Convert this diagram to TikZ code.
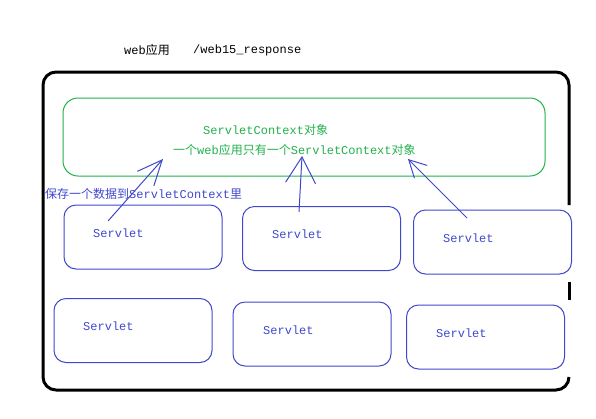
\documentclass[tikz,border=0pt]{standalone}
\usepackage{fontspec}
\setmainfont{Liberation Mono}
\newfontfamily\cjk{Noto Sans CJK SC}
\usetikzlibrary{arrows.meta}
\definecolor{ctxgreen}{HTML}{22B14C}
\definecolor{srvblue}{HTML}{3F48CC}

\begin{document}
\begin{tikzpicture}[
    x=1pt, y=-1pt,
    txt/.style={inner sep=0pt, anchor=west, font=\fontsize{12}{14}\selectfont},
    frame/.style={draw=black, line width=3pt, rounded corners=13pt},
    ctxbox/.style={rectangle, draw=ctxgreen, line width=1pt, rounded corners=15pt, minimum width=482pt, minimum height=78pt},
    servlet/.style={rectangle, draw=srvblue, line width=1pt, rounded corners=12pt, minimum width=158pt, minimum height=64pt},
    arrow/.style 2 args={srvblue, line width=1pt, -{Straight Barb[length=#1, width=#2, line width=1pt]}}
]
\useasboundingbox (0,0) rectangle (596,418);

% Title
\node[txt] (app) at (124,50) {web{\cjk 应用}};
\node[txt] (ctxpath) at (193,50) {/web15\_response};

% Web application frame (right side open in two places)
\draw[frame] (569,205) -- (569,72) -- (43,72) -- (43,390) -- (569,390) -- (569,377);
\draw[black, line width=3pt] (569,282) -- (569,300);

% ServletContext
\node[ctxbox] (ctx) at (304,137) {};
\node[txt, text=ctxgreen] (ctxname) at (203,130) {ServletContext{\cjk 对象}};
\node[txt, text=ctxgreen] (ctxnote) at (173,150) {{\cjk 一个}web{\cjk 应用只有一个}ServletContext{\cjk 对象}};
\node[txt, text=srvblue] (save) at (45,194) {{\cjk 保存一个数据到}ServletContext{\cjk 里}};

% Servlets
\node[servlet] (s1) at (143,237) {};
\node[servlet] (s2) at (321.5,238.5) {};
\node[servlet] (s3) at (492.5,242) {};
\node[servlet] (s4) at (133,330.5) {};
\node[servlet] (s5) at (312,334) {};
\node[servlet] (s6) at (485.5,337) {};
\node[txt, text=srvblue] (s1txt) at (93,233) {Servlet};
\node[txt, text=srvblue] (s2txt) at (272,234) {Servlet};
\node[txt, text=srvblue] (s3txt) at (443,238) {Servlet};
\node[txt, text=srvblue] (s4txt) at (83,326) {Servlet};
\node[txt, text=srvblue] (s5txt) at (263,330) {Servlet};
\node[txt, text=srvblue] (s6txt) at (436,333) {Servlet};

% Arrows
\coordinate (a1tail) at (108,221);
\coordinate (a1tip) at (163,159);
\coordinate (a2tail) at (299,212);
\coordinate (a2tip) at (302,156);
\coordinate (a3tail) at (467,218);
\coordinate (a3tip) at (408,159);
\draw[arrow={25pt}{22pt}] (a1tail) -- (a1tip);
\draw[arrow={26pt}{30pt}] (a2tail) -- (a2tip);
\draw[arrow={17pt}{18pt}] (a3tail) -- (a3tip);

\end{tikzpicture}
\end{document}
